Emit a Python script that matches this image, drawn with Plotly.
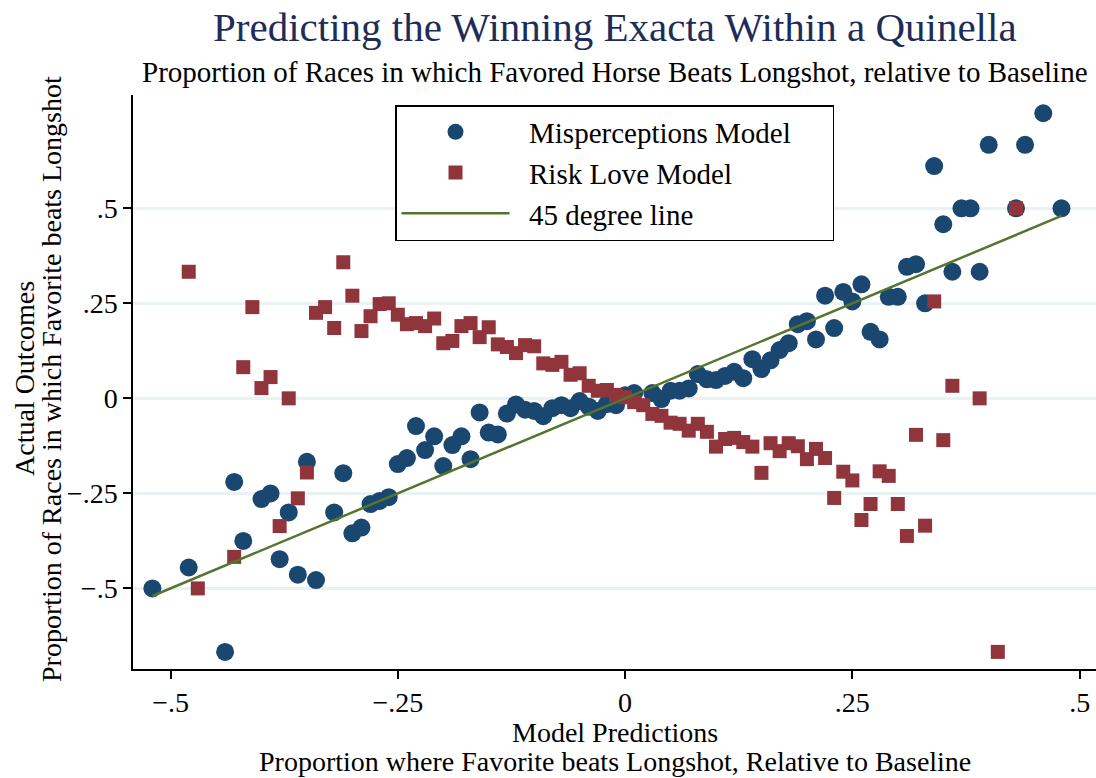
import plotly.graph_objects as go

# Misperceptions Model (navy circles)
mis_x = [-0.52, -0.48, -0.44, -0.43, -0.42, -0.40, -0.39, -0.38, -0.37, -0.36,
         -0.35, -0.34, -0.32, -0.31, -0.30, -0.29, -0.28, -0.27, -0.26, -0.25,
         -0.24, -0.23, -0.22, -0.21, -0.20, -0.19, -0.18, -0.17, -0.16, -0.15,
         -0.14, -0.13, -0.12, -0.11, -0.10, -0.09, -0.08, -0.07, -0.06, -0.05,
         -0.04, -0.03, -0.02, -0.01, 0.00, 0.01, 0.03, 0.04, 0.05, 0.06,
         0.07, 0.08, 0.09, 0.10, 0.11, 0.12, 0.13, 0.14, 0.15, 0.16,
         0.17, 0.18, 0.19, 0.20, 0.21, 0.22, 0.23, 0.24, 0.25, 0.26,
         0.27, 0.28, 0.29, 0.30, 0.31, 0.32, 0.33, 0.34, 0.35, 0.36,
         0.37, 0.38, 0.39, 0.40, 0.43, 0.44, 0.46, 0.48]
mis_y = [-0.500, -0.445, -0.667, -0.220, -0.375, -0.265, -0.250, -0.423, -0.300, -0.464,
         -0.167, -0.478, -0.300, -0.197, -0.355, -0.340, -0.278, -0.270, -0.260, -0.173,
         -0.157, -0.073, -0.136, -0.100, -0.178, -0.123, -0.100, -0.160, -0.037, -0.090,
         -0.095, -0.040, -0.016, -0.030, -0.033, -0.047, -0.026, -0.018, -0.026, -0.007,
         -0.022, -0.033, -0.015, -0.018, 0.008, 0.014, 0.014, -0.002, 0.020, 0.020,
         0.026, 0.064, 0.050, 0.048, 0.059, 0.070, 0.053, 0.103, 0.077, 0.100,
         0.127, 0.145, 0.195, 0.203, 0.155, 0.270, 0.185, 0.280, 0.255, 0.300,
         0.175, 0.155, 0.267, 0.267, 0.346, 0.353, 0.250, 0.611, 0.458, 0.333,
         0.500, 0.500, 0.333, 0.667, 0.500, 0.667, 0.750, 0.500]

# Risk Love Model (maroon squares)
risk_x = [-0.48, -0.47, -0.43, -0.42, -0.41, -0.40, -0.39, -0.38, -0.37, -0.36,
          -0.35, -0.34, -0.33, -0.32, -0.31, -0.30, -0.29, -0.28, -0.27, -0.26,
          -0.25, -0.24, -0.23, -0.22, -0.21, -0.20, -0.19, -0.18, -0.17, -0.16,
          -0.15, -0.14, -0.13, -0.12, -0.11, -0.10, -0.09, -0.08, -0.07, -0.06,
          -0.05, -0.04, -0.03, -0.02, -0.01, 0.00, 0.01, 0.02, 0.03, 0.04,
          0.05, 0.06, 0.07, 0.08, 0.09, 0.10, 0.11, 0.12, 0.13, 0.14,
          0.15, 0.16, 0.17, 0.18, 0.19, 0.20, 0.21, 0.22, 0.23, 0.24,
          0.25, 0.26, 0.27, 0.28, 0.29, 0.30, 0.31, 0.32, 0.33, 0.34,
          0.35, 0.36, 0.39, 0.41, 0.43]
risk_y = [0.333, -0.500, -0.417, 0.082, 0.240, 0.027, 0.056, -0.336, 0.000, -0.263,
          -0.195, 0.225, 0.240, 0.185, 0.358, 0.270, 0.177, 0.216, 0.248, 0.250,
          0.220, 0.195, 0.198, 0.190, 0.210, 0.145, 0.151, 0.190, 0.198, 0.161,
          0.187, 0.142, 0.135, 0.119, 0.140, 0.137, 0.092, 0.088, 0.096, 0.062,
          0.066, 0.033, 0.020, 0.022, 0.009, 0.003, -0.010, -0.018, -0.041, -0.046,
          -0.064, -0.067, -0.085, -0.067, -0.088, -0.127, -0.107, -0.104, -0.115, -0.127,
          -0.196, -0.118, -0.139, -0.118, -0.126, -0.160, -0.133, -0.157, -0.262, -0.193,
          -0.216, -0.320, -0.278, -0.192, -0.204, -0.278, -0.362, -0.096, -0.335, 0.255,
          -0.110, 0.033, 0.000, -0.667, 0.500]

# 45 degree line
line_x = [-0.52, 0.48]
line_y = [-0.52, 0.48]

tick_vals = [-0.5, -0.25, 0, 0.25, 0.5]
tick_text = ["\u2212.5", "\u2212.25", "0", ".25", ".5"]

FONT = "Liberation Serif"
NAVY = "#1a476f"
MAROON = "#90353b"
GREEN = "#55752f"
NB = "\u00a0"

fig = go.Figure()
fig.add_trace(go.Scatter(x=mis_x, y=mis_y, mode="markers",
                         name=NB * 2 + "Misperceptions Model" + NB * 5,
                         legendgroup="a",
                         marker=dict(symbol="circle", size=18, color=NAVY, line=dict(width=0))))
fig.add_trace(go.Scatter(x=risk_x, y=risk_y, mode="markers",
                         name=NB * 2 + "Risk Love Model",
                         legendgroup="b",
                         marker=dict(symbol="square", size=14, color=MAROON, line=dict(width=0))))
fig.add_trace(go.Scatter(x=line_x, y=line_y, mode="lines",
                         name=NB * 2 + "45 degree line",
                         legendgroup="c",
                         line=dict(color=GREEN, width=2.5)))

PL, PR, PT, PB = 133, 0, 95, 109
W, H = 1096, 778
pw, ph = W - PL - PR, H - PT - PB


def px_x(p):
    return (p - PL) / pw


def px_y(p):
    return (H - PB - p) / ph


TS = 29
AS = 28
annots = [
    dict(text="Predicting the Winning Exacta Within a Quinella", x=0.5, y=px_y(27),
         font=dict(size=41, color="#1e2c58", family=FONT)),
    dict(text="Proportion of Races in which Favored Horse Beats Longshot, relative to Baseline",
         x=0.5, y=px_y(72), font=dict(size=TS, color="black", family=FONT)),
    dict(text="Model Predictions", x=0.5, y=px_y(732),
         font=dict(size=AS, color="black", family=FONT)),
    dict(text="Proportion where Favorite beats Longshot, Relative to Baseline", x=0.5, y=px_y(761),
         font=dict(size=AS, color="black", family=FONT)),
    dict(text="Actual Outcomes", x=px_x(24), y=px_y(379), textangle=-90,
         font=dict(size=AS, color="black", family=FONT)),
    dict(text="Proportion of Races in which Favorite beats Longshot", x=px_x(51), y=px_y(379),
         textangle=-90, font=dict(size=AS, color="black", family=FONT)),
]
for a in annots:
    a.update(xref="paper", yref="paper", showarrow=False, xanchor="center", yanchor="middle")

fig.update_layout(
    width=W, height=H,
    margin=dict(l=PL, r=PR, t=PT, b=PB, autoexpand=False),
    paper_bgcolor="white", plot_bgcolor="white",
    font=dict(family=FONT, size=TS, color="black"),
    annotations=annots,
    showlegend=True,
    legend=dict(x=px_x(395), y=px_y(105), xanchor="left", yanchor="top",
                bgcolor="white", bordercolor="black", borderwidth=1.5,
                font=dict(size=TS, family=FONT, color="black"),
                traceorder="grouped", tracegroupgap=0, itemwidth=108,
                itemsizing="trace"),
    xaxis=dict(range=[-0.5413, 0.518], tickvals=tick_vals, ticktext=tick_text,
               showgrid=False, zeroline=False, showline=True, linecolor="black", linewidth=1.5,
               ticks="outside", ticklen=8, tickwidth=1.5, tickcolor="black",
               tickfont=dict(size=28, family=FONT, color="black")),
    yaxis=dict(range=[-0.712, 0.798], tickvals=tick_vals, ticktext=tick_text,
               showgrid=True, gridcolor="#eaf2f3", gridwidth=2.5, zeroline=False,
               showline=True, linecolor="black", linewidth=1.5,
               ticks="outside", ticklen=8, tickwidth=1.5, tickcolor="black",
               tickfont=dict(size=28, family=FONT, color="black")),
)

fig.write_html("out.html", config={"displayModeBar": False},
               post_script="document.body.style.margin='0';document.body.style.overflow='hidden';")
